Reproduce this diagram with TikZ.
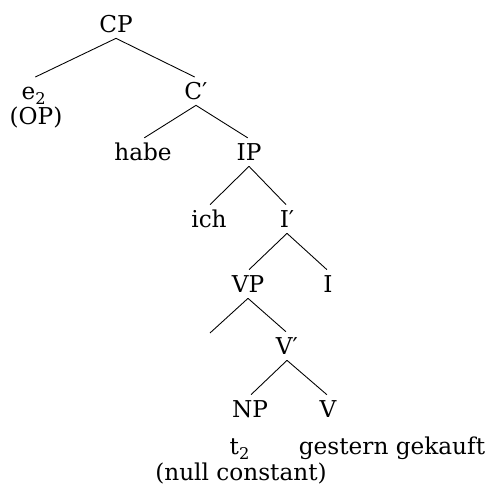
\documentclass[tikz,border=0pt]{standalone}
\usepackage{fontspec}
\setmainfont{DejaVu Serif}

\begin{document}
\begin{tikzpicture}[x=0.02cm, y=-0.02cm,
    cat/.style={anchor=base, inner xsep=0pt, inner ysep=0.1cm, text height=0.34cm, text depth=0pt,
      font=\fontsize{13.2}{15}\selectfont},
    word/.style={anchor=base, inner sep=0pt, font=\fontsize{13.2}{15}\selectfont},
    branch/.style={line width=0.5pt, shorten >=0.03cm}]
  \useasboundingbox (0,0) rectangle (500,499);

  \node [cat] (cp) at (116,33) {CP};
  \node [cat] (e2) at (34,100) {e\textsubscript{2}};
  \node [word] (op) at (36,125) {(OP)};
  \node [cat] (cbar) at (196,100) {C′};
  \node [cat] (habe) at (143,161) {habe};
  \node [cat] (ip) at (249,161) {IP};
  \node [cat] (ich) at (209,228) {ich};
  \node [cat] (ibar) at (287,228) {I′};
  \node [cat] (vp) at (248,293) {VP};
  \node [cat] (i) at (328,293) {I};
  \coordinate (spec) at (210,333);
  \node [cat] (vbar) at (287,355) {V′};
  \node [cat] (np) at (250,418) {NP};
  \node [cat] (v) at (328,418) {V};
  \node [word] (t2) at (240,455) {t\textsubscript{2}};
  \node [word] (gekauft) at (392,455) {gestern gekauft};
  \node [word] (null) at (241,480) {(null constant)};

  \draw [branch] (cp.south) -- (e2.north);
  \draw [branch] (cp.south) -- (cbar.north);
  \draw [branch] (cbar.south) -- (habe.north);
  \draw [branch] (cbar.south) -- (ip.north);
  \draw [branch] (ip.south) -- (ich.north);
  \draw [branch] (ip.south) -- (ibar.north);
  \draw [branch] (ibar.south) -- (vp.north);
  \draw [branch] (ibar.south) -- (i.north);
  \draw [line width=0.5pt] (vp.south) -- (spec);
  \draw [branch] (vp.south) -- (vbar.north);
  \draw [branch] (vbar.south) -- (np.north);
  \draw [branch] (vbar.south) -- (v.north);
\end{tikzpicture}
\end{document}
